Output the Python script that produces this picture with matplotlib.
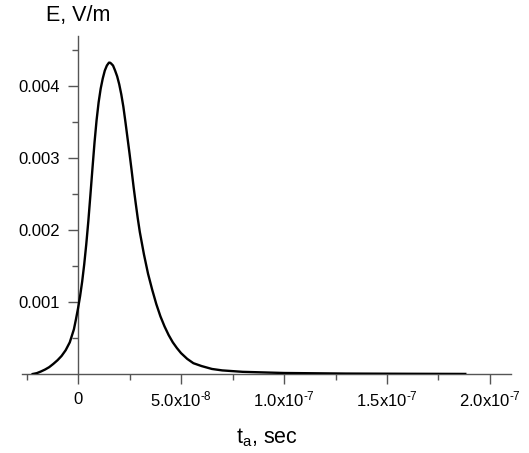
import numpy as np
import matplotlib
matplotlib.use('Agg')
import matplotlib.pyplot as plt
from matplotlib.ticker import FixedLocator

plt.rcParams['font.family'] = 'Liberation Sans'
plt.rcParams['mathtext.fontset'] = 'custom'
plt.rcParams['mathtext.rm'] = 'Liberation Sans'
plt.rcParams['mathtext.it'] = 'Liberation Sans'

# pulse field, time in ns and E in V/m
t_ns = [-22, -20, -18, -16, -14, -12, -10, -8, -6, -4,
        -2, -1, 0, 1, 2, 3, 4, 5, 6, 7,
        8, 9, 10, 11, 12, 13, 14, 15, 15.5, 16,
        17, 18, 19, 20, 21, 22, 23, 24, 25, 26,
        27, 28, 29, 30, 32, 34, 36, 38, 40, 42,
        44, 46, 48, 50, 53, 56, 60, 65, 70, 80,
        100, 130, 160, 188]
E_vm = [0.0, 0.000012, 0.000035, 0.000062, 0.000095, 0.00014, 0.00019, 0.00025, 0.00033, 0.00044,
        0.00062, 0.00076, 0.00091, 0.00108, 0.00128, 0.00152, 0.0018, 0.00212, 0.00248, 0.00285,
        0.00321, 0.00352, 0.00377, 0.00396, 0.0041, 0.00421, 0.00428, 0.00432, 0.00432, 0.00431,
        0.00428, 0.00421, 0.00413, 0.00402, 0.00388, 0.00371, 0.0035, 0.00328, 0.00306, 0.00283,
        0.00259, 0.00237, 0.00216, 0.00197, 0.00166, 0.00139, 0.00117, 0.00097, 0.0008, 0.00066,
        0.00054, 0.00044, 0.00036, 0.00029, 0.00021, 0.00015, 0.00011, 0.00007, 0.00005, 0.00003,
        0.000014, 0.000006, 0.000003, 0.000001]

xticks = [0, 5e-8, 1e-7, 1.5e-7, 2e-7]
xlabels = ['0', '5.0x10$^{\\text{-}8}$', '1.0x10$^{\\text{-}7}$',
           '1.5x10$^{\\text{-}7}$', '2.0x10$^{\\text{-}7}$']
yticks = [0.001, 0.002, 0.003, 0.004]
ylabels = ['0.001', '0.002', '0.003', '0.004']

t = np.array(t_ns) * 1e-9

fig = plt.figure(figsize=(5.29, 4.53), dpi=100)
ax = fig.add_axes([22/529, 79/453, 489/529, 338/453])

ax.plot(t, E_vm, color='black', lw=1.7, zorder=3)

ax.set_xlim(-27.2e-9, 210.2e-9)
ax.set_ylim(0, 0.00469)

axcol = '#555555'
for s in ['top', 'right']:
    ax.spines[s].set_visible(False)
ax.spines['left'].set_position(('data', 0))
ax.spines['bottom'].set_position(('data', 0))
for s in ['left', 'bottom']:
    ax.spines[s].set_color(axcol)
    ax.spines[s].set_linewidth(1.0)

ax.set_xticks(xticks)
ax.set_xticklabels([])
ax.xaxis.set_minor_locator(FixedLocator([-2.5e-8, 2.5e-8, 7.5e-8, 1.25e-7, 1.75e-7]))
ax.set_yticks(yticks)
ax.set_yticklabels(ylabels)
ax.yaxis.set_minor_locator(FixedLocator([0.0005, 0.0015, 0.0025, 0.0035, 0.0045]))

ax.tick_params(which='major', length=7, width=1.0, color=axcol, labelsize=12, pad=6)
ax.tick_params(which='minor', length=4, width=1.0, color=axcol)

# x tick labels placed on a common baseline
for xv, lab in zip(xticks, xlabels):
    dy = -30 if xv == 0 else -32
    ax.annotate(lab, xy=(xv, 0), xycoords=('data', 'axes fraction'),
                xytext=(0, dy), textcoords='offset pixels',
                ha='center', va='baseline', fontsize=12)

ax.text(0, 1.044, 'E, V/m', transform=ax.get_xaxis_transform(),
        ha='center', va='baseline', fontsize=15.5)
ax.text(0.5, -0.204, 't$_\\mathregular{a}$, sec', transform=ax.transAxes,
        ha='center', va='baseline', fontsize=15.5)

fig.savefig('out.png', dpi=100)
